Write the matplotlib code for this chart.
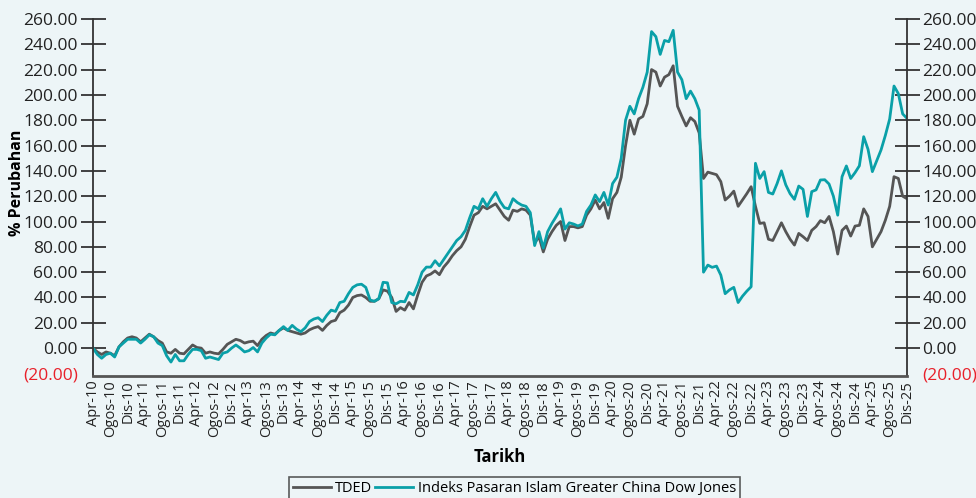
import matplotlib.pyplot as plt
from matplotlib.ticker import FuncFormatter

# nilai bulanan Apr-10 .. Dis-25 (% perubahan)
tded = [
    0, -3, -5, -3, -4, -6, 1, 5, 8, 9, 8, 5, 8, 11, 9, 6, 4, -3, -4, -1,
    -4, -4.5, -1, 2.5, 0.5, 0, -4, -3, -4, -4.5, -1, 3, 5, 7, 6, 4, 5, 5.5, 2, 7,
    10, 12, 11, 14, 16, 14, 13, 12, 11, 12, 14.5, 16, 17, 14, 18, 21, 22, 28, 30, 34,
    40, 41.5, 42, 40, 37, 37, 39, 46, 45, 40, 29, 32, 30, 36, 31, 42, 52, 57, 58.5, 61,
    58, 64, 68, 73, 77, 80, 86, 96, 105, 107, 112, 110, 112, 114, 109, 104, 101, 109, 108, 110,
    109, 105, 83, 88, 76, 86, 92, 97, 100, 85, 96, 96, 95, 96, 105, 110, 117, 110, 115, 102.5,
    118, 123, 135, 160, 180, 169, 181, 183, 193, 220, 218, 207, 214, 216, 223, 191, 183, 175.5, 182, 179,
    170, 134, 139, 138, 137, 131.5, 117, 120, 124, 112, 117, 122, 127.5, 112, 98.5, 99, 86, 85, 92, 99,
    92, 86, 81.4, 90.6, 88, 85, 93, 96, 100.7, 99, 104, 92, 74.3, 93, 96.4, 88.5, 96.4, 97, 110, 104,
    80, 86, 92, 101, 112, 135.4, 134, 120, 118,
]
djim = [
    0, -5, -8, -5, -4, -7, 1, 4, 7, 7, 7, 4, 7, 10.5, 9, 4, 2, -6, -11, -5,
    -10, -10, -5, -1, -1, -2, -8, -7, -8, -9, -4, -3, 0, 2.5, 0, -3, -2, 0.5, -3, 4,
    8, 11, 10.5, 14, 17, 14, 18, 15, 13, 16, 21, 23, 24, 21, 26, 30, 29, 36, 37, 43,
    48, 50, 50.5, 48, 38, 37, 39, 52, 51.6, 36, 35, 37, 36.6, 44, 42, 50, 60, 64, 64, 69,
    65, 70, 75, 80, 85, 88, 93, 103, 112, 110, 118, 112, 118, 123, 116, 111, 110, 118, 115, 113,
    112, 107, 81, 92, 79, 92, 98.5, 104, 110, 94, 99, 98, 96.5, 98, 108, 113, 121, 115.7, 123, 113,
    130, 135, 150, 180, 191, 185, 197, 206, 218, 250, 246, 232, 243, 242, 251, 218, 212, 197, 203, 197,
    188, 60, 65.6, 63.8, 64.8, 57.7, 43, 46, 48, 36, 41, 45, 48.5, 146, 134, 139.4, 123, 121.7, 130, 140,
    129, 122, 117.5, 128, 125.4, 104, 123.6, 125, 132.8, 133, 129.6, 120, 105, 135.4, 143.9, 134, 138.6, 144, 167, 157,
    139.4, 148, 156.5, 168, 181, 207, 201, 185, 181.5,
]

bulan = ['Apr', 'Ogos', 'Dis']
tick_pos = list(range(0, len(tded), 4))
tick_lbl = ['%s-%02d' % (bulan[i % 3], 10 + i // 3) for i in range(len(tick_pos))]
y_ticks = list(range(-20, 261, 20))

bg = '#edf5f7'
plt.rcParams['font.family'] = ['Open Sans', 'DejaVu Sans']

fig = plt.figure(figsize=(9.76, 4.98), dpi=100, facecolor=bg)
ax = fig.add_axes([0.0953, 0.245, 0.834, 0.717])
ax.set_facecolor(bg)

x = list(range(len(tded)))
ax.plot(x, tded, color='#555555', lw=2.0, label='TDED')
ax.plot(x, djim, color='#0aa0a8', lw=2.0, label='Indeks Pasaran Islam Greater China Dow Jones')

ax.set_xlim(0, len(tded) - 1)
ax.set_ylim(-22, 260)
ax.set_xticks(tick_pos)
ax.set_xticklabels(tick_lbl, rotation=90, fontsize=10.5, color='#222222')
ax.tick_params(axis='x', length=0, pad=3)

fmt = FuncFormatter(lambda v, p: '(%.2f)' % abs(v) if v < 0 else '%.2f' % v)
ax.set_yticks(y_ticks)
ax.yaxis.set_major_formatter(fmt)
ax.tick_params(axis='y', direction='inout', length=18, width=1.3, color='#333333',
               labelsize=12.5, labelcolor='#222222', left=True, right=True,
               labelleft=True, labelright=True, pad=2)

for s in ['top']:
    ax.spines[s].set_visible(False)
for s in ['left', 'right']:
    ax.spines[s].set_color('#333333')
    ax.spines[s].set_linewidth(1.3)
ax.spines['bottom'].set_color('#555555')
ax.spines['bottom'].set_linewidth(2)

ax.set_ylabel('% Perubahan', fontsize=11.5, fontweight='bold')
ax.yaxis.set_label_coords(-0.084, 0.54)
fig.text(0.512, 0.082, 'Tarikh', fontsize=12, fontweight='bold', ha='center', va='center')

leg = fig.legend(loc='lower center', bbox_to_anchor=(0.527, -0.02), ncol=2, fontsize=10.5,
                 frameon=True, fancybox=False, handlelength=2.6, handletextpad=0.3,
                 columnspacing=0.2, borderpad=0.3)
leg.get_frame().set_edgecolor('#333333')
leg.get_frame().set_facecolor(bg)
leg.get_frame().set_linewidth(1.2)

# label negatif merah, tanpa garis tik
fig.canvas.draw()
for t in ax.yaxis.get_major_ticks():
    if t.get_loc() < 0:
        t.tick1line.set_visible(False)
        t.tick2line.set_visible(False)
        t.label1.set_color('#e8202a')
        t.label2.set_color('#e8202a')

fig.savefig('out.png', dpi=100, facecolor=bg)
